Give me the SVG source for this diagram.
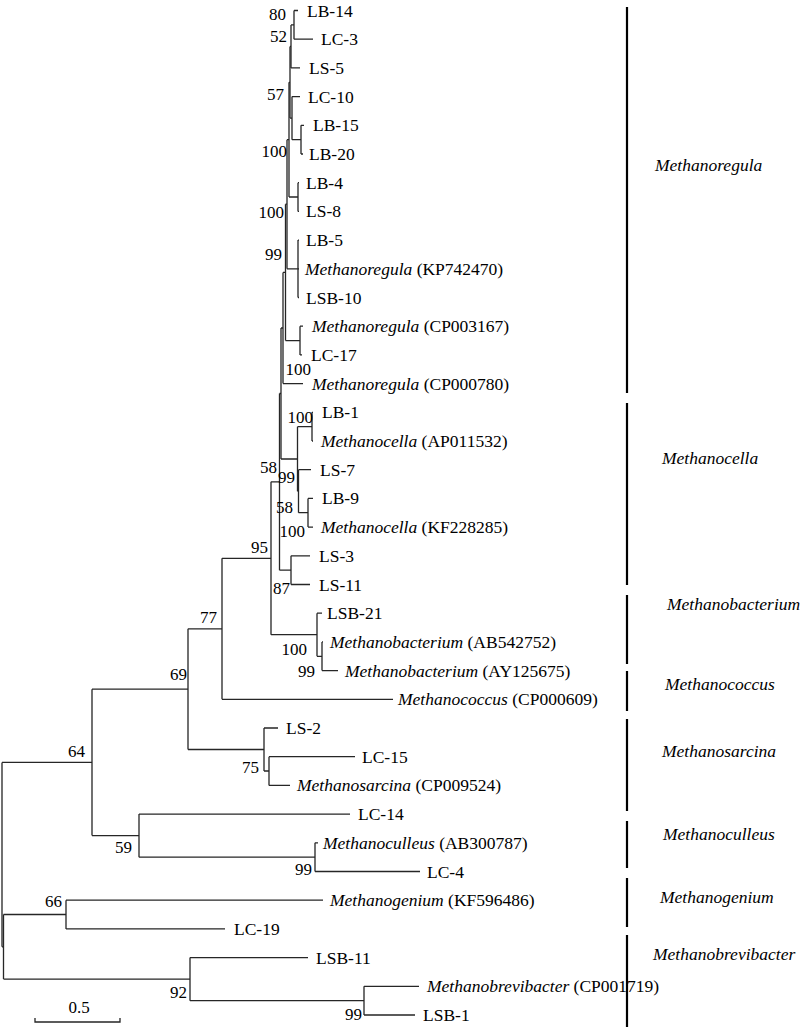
<svg xmlns="http://www.w3.org/2000/svg" width="800" height="1027" viewBox="0 0 800 1027">
<style>
text{font-family:"Liberation Serif","Times New Roman",serif;fill:#000}
.lf{font-size:17.5px}
.bs{font-size:17px;text-anchor:end}
.it{font-style:italic}
.cl{font-size:17.5px;font-style:italic}
.br{fill:none;stroke:#262626;stroke-width:1.3}
.bar{stroke:#000;stroke-width:2.2}
</style>
<rect width="800" height="1027" fill="#fff"/>
<g id="connectors" class="br">
<path d="M2,762.4V946.8M2,762.4H92M2,946.8H3.5"/>
<path d="M3.5,914.5V979.1M3.5,914.5H66M3.5,979.1H190"/>
<path d="M92,689.2V835.6M92,689.2H188M92,835.6H139"/>
<path d="M188,628.8V749.5M188,628.8H222M188,749.5H264"/>
<path d="M222,558.3V699.3M222,558.3H271M222,699.3H393"/>
<path d="M271,481.8V634.7M271,481.8H279.5M271,634.7H317"/>
<path d="M279.5,393.5V570.2M279.5,393.5H281M279.5,570.2H291"/>
<path d="M281,328V459M281,328H283M281,459H297.5"/>
<path d="M283,272.4V383.6M283,272.4H285.5M283,383.6H303"/>
<path d="M285.5,204.2V340.6M285.5,204.2H287M285.5,340.6H300"/>
<path d="M287,139.7V268.8M287,139.7H289M287,268.8H298"/>
<path d="M289,82.3V197M289,82.3H290M289,197H298"/>
<path d="M290,46.4V118.1M290,46.4H291M290,118.1H292"/>
<path d="M291,24.9V67.9M291,24.9H294M291,67.9H300"/>
<path d="M294,10.5V39.2M294,10.5H298M294,39.2H313"/>
<path d="M292,96.6V139.7M292,96.6H300M292,139.7H301"/>
<path d="M301,125.3V154M301,125.3H304M301,154H303"/>
<path d="M298,182.7V211.4M298,182.7H299M298,211.4H299"/>
<path d="M298,240.1V297.5M298,240.1H299M298,268.8H299M298,297.5H299"/>
<path d="M300,326.2V354.9M300,326.2H303M300,354.9H302"/>
<path d="M297.5,426.7V491.2M297.5,426.7H312M297.5,491.2H298.5"/>
<path d="M312,412.3V441M312,412.3H313M312,441H313"/>
<path d="M298.5,469.7V512.7M298.5,469.7H311M298.5,512.7H308"/>
<path d="M308,498.4V527.1M308,498.4H313M308,527.1H313"/>
<path d="M291,555.8V584.5M291,555.8H310M291,584.5H310"/>
<path d="M317,613.2V656.3M317,613.2H322M317,656.3H322"/>
<path d="M322,641.9V670.6M322,641.9H323M322,670.6H338"/>
<path d="M264,728V771M264,728H278M264,771H269"/>
<path d="M269,756.7V785.4M269,756.7H355M269,785.4H290"/>
<path d="M139,814.1V857.2M139,814.1H350M139,857.2H315"/>
<path d="M315,842.8V871.5M315,842.8H318M315,871.5H420"/>
<path d="M66,900.2V928.9M66,900.2H323M66,928.9H225"/>
<path d="M190,957.6V1000.7M190,957.6H308M190,1000.7H364"/>
<path d="M364,986.3V1015M364,986.3H419M364,1015H415"/>
</g>
<g id="leaves" class="lf">
<text id="LB-14" x="307" y="16.5">LB-14</text>
<text id="LC-3" x="321" y="45.2">LC-3</text>
<text id="LS-5" x="309" y="73.9">LS-5</text>
<text id="LC-10" x="308" y="102.6">LC-10</text>
<text id="LB-15" x="313" y="131.3">LB-15</text>
<text id="LB-20" x="309" y="160">LB-20</text>
<text id="LB-4" x="306" y="188.7">LB-4</text>
<text id="LS-8" x="306" y="217.4">LS-8</text>
<text id="LB-5" x="306" y="246.1">LB-5</text>
<text id="KP742470" x="305" y="274.8"><tspan class="it">Methanoregula</tspan> (KP742470)</text>
<text id="LSB-10" x="306" y="303.5">LSB-10</text>
<text id="CP003167" x="312" y="332.2"><tspan class="it">Methanoregula</tspan> (CP003167)</text>
<text id="LC-17" x="311" y="360.9">LC-17</text>
<text id="CP000780" x="312" y="389.6"><tspan class="it">Methanoregula</tspan> (CP000780)</text>
<text id="LB-1" x="322" y="418.3">LB-1</text>
<text id="AP011532" x="321" y="447"><tspan class="it">Methanocella</tspan> (AP011532)</text>
<text id="LS-7" x="320" y="475.7">LS-7</text>
<text id="LB-9" x="322" y="504.4">LB-9</text>
<text id="KF228285" x="321" y="533.1"><tspan class="it">Methanocella</tspan> (KF228285)</text>
<text id="LS-3" x="319" y="561.8">LS-3</text>
<text id="LS-11" x="319" y="590.5">LS-11</text>
<text id="LSB-21" x="327" y="619.2">LSB-21</text>
<text id="AB542752" x="330" y="647.9"><tspan class="it">Methanobacterium</tspan> (AB542752)</text>
<text id="AY125675" x="345" y="676.6"><tspan class="it">Methanobacterium</tspan> (AY125675)</text>
<text id="CP000609" x="398" y="705.3"><tspan class="it">Methanococcus</tspan> (CP000609)</text>
<text id="LS-2" x="286" y="734">LS-2</text>
<text id="LC-15" x="362" y="762.7">LC-15</text>
<text id="CP009524" x="297" y="791.4"><tspan class="it">Methanosarcina</tspan> (CP009524)</text>
<text id="LC-14" x="358" y="820.1">LC-14</text>
<text id="AB300787" x="323" y="848.8"><tspan class="it">Methanoculleus</tspan> (AB300787)</text>
<text id="LC-4" x="427" y="877.5">LC-4</text>
<text id="KF596486" x="330" y="906.2"><tspan class="it">Methanogenium</tspan> (KF596486)</text>
<text id="LC-19" x="234" y="934.9">LC-19</text>
<text id="LSB-11" x="316" y="963.6">LSB-11</text>
<text id="CP001719" x="427" y="992.3"><tspan class="it">Methanobrevibacter</tspan> (CP001719)</text>
<text id="LSB-1" x="423" y="1021">LSB-1</text>
</g>
<g id="bootstrap" class="bs">
<text x="286" y="20">80</text>
<text x="287" y="42">52</text>
<text x="284" y="100">57</text>
<text x="287" y="157">100</text>
<text x="284" y="218">100</text>
<text x="282" y="260">99</text>
<text x="311" y="375">100</text>
<text x="313" y="423">100</text>
<text x="277" y="473">58</text>
<text x="295" y="483">99</text>
<text x="293" y="513">58</text>
<text x="305" y="537">100</text>
<text x="268" y="553">95</text>
<text x="290" y="594">87</text>
<text x="217" y="623">77</text>
<text x="307" y="655">100</text>
<text x="315" y="677">99</text>
<text x="187" y="680">69</text>
<text x="85" y="757">64</text>
<text x="259" y="773">75</text>
<text x="132" y="853">59</text>
<text x="312" y="875">99</text>
<text x="62" y="907">66</text>
<text x="187" y="998">92</text>
<text x="362" y="1020">99</text>
</g>
<g id="clades">
<path class="bar" d="M627,7V393M627,403V585M627,595V664M627,671V711M627,719V811M627,821V868M627,878V927M627,935V1027"/>
<text class="cl" x="655" y="171">Methanoregula</text>
<text class="cl" x="662" y="464">Methanocella</text>
<text class="cl" x="667" y="610">Methanobacterium</text>
<text class="cl" x="665" y="690">Methanococcus</text>
<text class="cl" x="662" y="757">Methanosarcina</text>
<text class="cl" x="663" y="840">Methanoculleus</text>
<text class="cl" x="660" y="903">Methanogenium</text>
<text class="cl" x="653" y="960">Methanobrevibacter</text>
</g>
<g id="scale">
<path class="br" d="M35,1018V1022H120V1018"/>
<text x="79" y="1013" style="font-size:17px;text-anchor:middle">0.5</text>
</g>
</svg>
